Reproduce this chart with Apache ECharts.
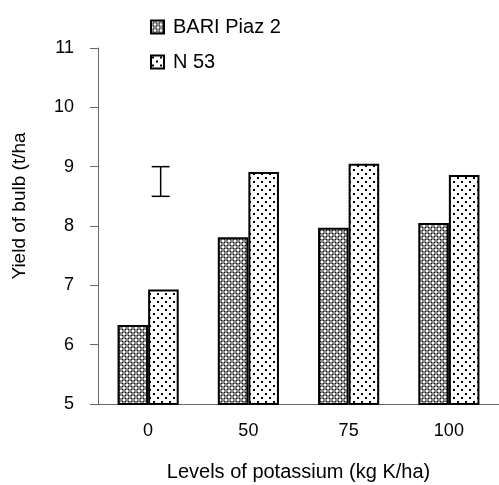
<!DOCTYPE html>
<html>
<head>
<meta charset="utf-8">
<script src="https://cdn.jsdelivr.net/npm/echarts@6/dist/echarts.min.js"></script>
<style>
html, body { margin: 0; padding: 0; background: #fff; }
#chart { width: 499px; height: 485px; }
</style>
</head>
<body>
<div id="chart"></div>
<script>
// potassium levels (kg K/ha)
var levels = ['0', '50', '75', '100'];
// bulb yield (t/ha)
var bariPiaz2 = [6.33, 7.81, 7.97, 8.05];
var n53 = [6.93, 8.91, 9.05, 8.86];
// LSD bar: [category index, low, high]
var lsdBar = [[0, 8.5, 9.0]];
var yTicks = { min: 5, max: 11, step: 1 };

// small tiles used as fill patterns
function makeTile(size, paint) {
    var c = document.createElement('canvas');
    c.width = size; c.height = size;
    var ctx = c.getContext('2d');
    paint(ctx);
    return c;
}
var checkTile = makeTile(6, function (ctx) {
    ctx.fillStyle = '#8c8c8c';
    ctx.fillRect(0, 0, 6, 6);
    ctx.fillStyle = '#ffffff';
    ctx.fillRect(0, 0, 2, 2);
    ctx.fillRect(3, 3, 2, 2);
    ctx.fillStyle = '#111';
    ctx.fillRect(2, 2, 1, 1);
    ctx.fillRect(5, 5, 1, 1);
    ctx.fillRect(2, 5, 1, 1);
    ctx.fillRect(5, 2, 1, 1);
});
var dotTile = makeTile(8, function (ctx) {
    ctx.fillStyle = '#ffffff';
    ctx.fillRect(0, 0, 8, 8);
    ctx.fillStyle = '#000';
    ctx.fillRect(1, 1, 2, 2);
    ctx.fillRect(5, 5, 2, 2);
});

var font = 'Liberation Sans';
var myChart = echarts.init(document.getElementById('chart'));
var option = {
    backgroundColor: '#fff',
    animation: false,
    textStyle: { fontFamily: font },
    legend: {
        orient: 'vertical',
        left: 145,
        top: 12,
        itemGap: 15,
        itemWidth: 13,
        itemHeight: 13,
        icon: 'rect',
        textStyle: { fontSize: 20, color: '#000', fontFamily: font, padding: [0, 0, 0, 4] },
        data: ['BARI Piaz 2', 'N 53']
    },
    grid: { left: 98, right: 0, top: 48, bottom: 81, outerBoundsMode: 'none' },
    xAxis: {
        type: 'category',
        data: levels,
        name: 'Levels of potassium (kg K/ha)',
        nameLocation: 'middle',
        nameGap: 58,
        nameTextStyle: { fontSize: 20, color: '#000' },
        axisLine: { lineStyle: { color: '#666', width: 1 } },
        axisTick: { length: 6, lineStyle: { color: '#666' } },
        axisLabel: { fontSize: 18, color: '#000', margin: 18 }
    },
    yAxis: {
        type: 'value',
        min: yTicks.min,
        max: yTicks.max,
        interval: yTicks.step,
        name: 'Yield of bulb (t/ha)',
        nameLocation: 'middle',
        nameGap: 69,
        nameTruncate: { maxWidth: 150, ellipsis: '' },
        nameTextStyle: { fontSize: 19, color: '#000', padding: [0, 0, 0, 40] },
        axisLine: { show: true, lineStyle: { color: '#666', width: 1 } },
        axisTick: { show: true, length: 8, lineStyle: { color: '#666' } },
        axisLabel: { fontSize: 18, color: '#000', margin: 24 },
        splitLine: { show: false }
    },
    series: [
        {
            name: 'BARI Piaz 2',
            type: 'bar',
            barGap: '0%',
            barCategoryGap: '39%',
            itemStyle: {
                color: { image: checkTile, repeat: 'repeat' },
                borderColor: '#000',
                borderWidth: 2
            },
            data: bariPiaz2
        },
        {
            name: 'N 53',
            type: 'bar',
            itemStyle: {
                color: { image: dotTile, repeat: 'repeat' },
                borderColor: '#000',
                borderWidth: 2
            },
            data: n53
        },
        {
            name: 'LSD',
            type: 'custom',
            encode: { x: 0, y: [1, 2] },
            renderItem: function (params, api) {
                var lo = api.coord([api.value(0), api.value(1)]);
                var hi = api.coord([api.value(0), api.value(2)]);
                var x = lo[0] + api.size([1, 0])[0] * 0.125;
                var half = 9;
                var style = { stroke: '#000', lineWidth: 1.5 };
                return {
                    type: 'group',
                    children: [
                        { type: 'line', shape: { x1: x, y1: lo[1], x2: x, y2: hi[1] }, style: style },
                        { type: 'line', shape: { x1: x - half, y1: lo[1], x2: x + half, y2: lo[1] }, style: style },
                        { type: 'line', shape: { x1: x - half, y1: hi[1], x2: x + half, y2: hi[1] }, style: style }
                    ]
                };
            },
            data: lsdBar
        }
    ]
};
myChart.setOption(option);
</script>
</body>
</html>
